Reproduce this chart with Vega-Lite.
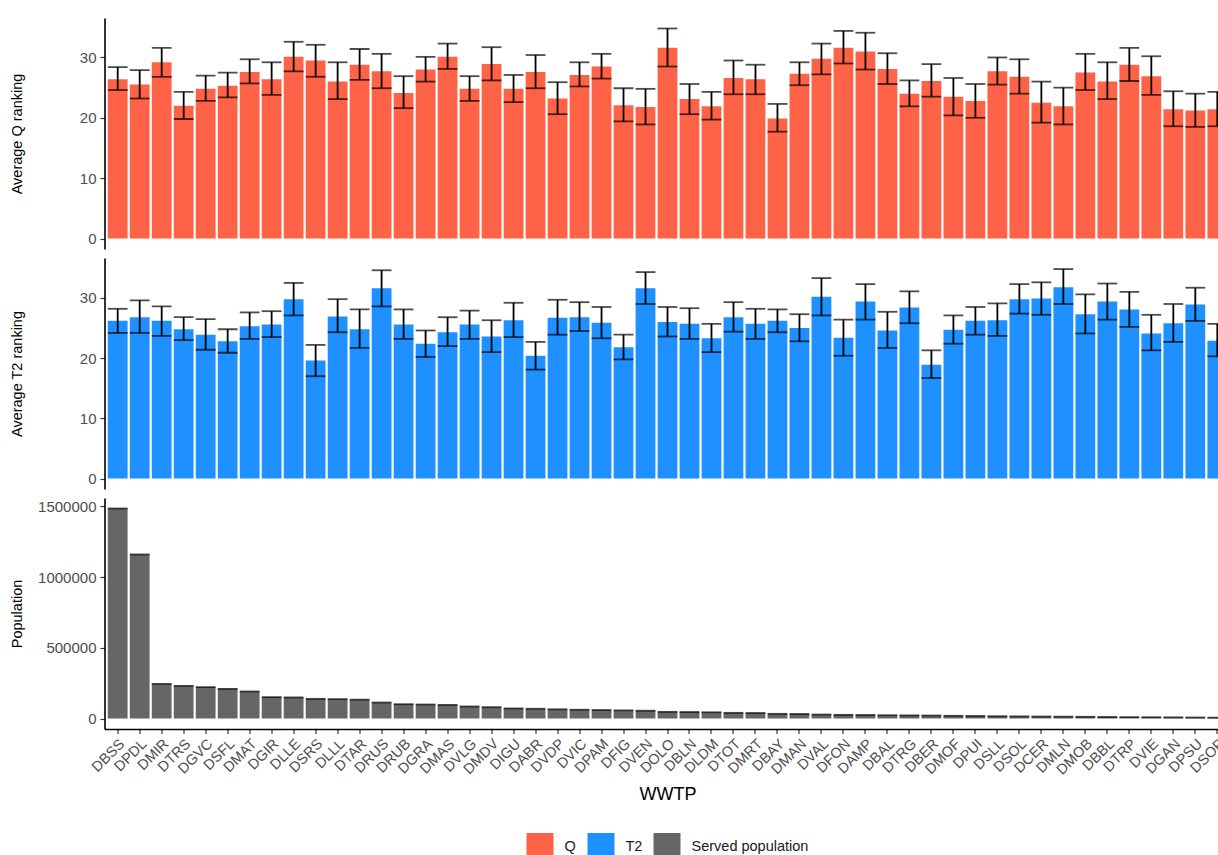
{
  "$schema": "https://vega.github.io/schema/vega-lite/v6.json",
  "background": "white",
  "padding": {"left": 8.5, "top": 18, "right": -13, "bottom": -5},
  "spacing": 9,
  "config": {
    "font": "Liberation Sans",
    "view": {"stroke": null},
    "axis": {
      "domainColor": "black", "domainWidth": 1.6,
      "tickColor": "#333333", "tickWidth": 1.2, "tickSize": 4.5,
      "labelColor": "#4D4D4D", "labelFont": "Liberation Sans", "labelFontSize": 14.5, "labelPadding": 2,
      "titleFont": "Liberation Sans", "titleFontWeight": "normal", "titleColor": "black",
      "grid": false
    },
    "axisY": {"titleFontSize": 14.5, "titleX": -80, "titleBaseline": "bottom", "labelPadding": 4, "labelFontSize": 15},
    "axisX": {"titleFontSize": 18, "labelAngle": -45, "labelAlign": "right", "labelBaseline": "top", "labelPadding": 3, "titleY": 70, "titleBaseline": "alphabetic"},
    "legend": {
      "labelFont": "Liberation Sans", "labelFontSize": 14.5, "labelColor": "#1A1A1A",
      "symbolType": "square", "symbolSize": 729, "symbolStrokeWidth": 0, "symbolOpacity": 1,
      "labelOffset": 11, "columnPadding": 11, "padding": 0
    }
  },
  "data": {
    "values": [
      {"wwtp": "DBSS", "q": 26.4, "q_lo": 24.6, "q_hi": 28.4, "t2": 26.2, "t2_lo": 24.2, "t2_hi": 28.2, "pop": 1485000},
      {"wwtp": "DPDL", "q": 25.5, "q_lo": 23.2, "q_hi": 27.9, "t2": 26.8, "t2_lo": 24.2, "t2_hi": 29.6, "pop": 1160000},
      {"wwtp": "DMIR", "q": 29.2, "q_lo": 26.8, "q_hi": 31.6, "t2": 26.2, "t2_lo": 23.7, "t2_hi": 28.6, "pop": 245000},
      {"wwtp": "DTRS", "q": 22.0, "q_lo": 19.8, "q_hi": 24.3, "t2": 24.8, "t2_lo": 23.0, "t2_hi": 26.8, "pop": 231000},
      {"wwtp": "DGVC", "q": 24.8, "q_lo": 22.8, "q_hi": 27.0, "t2": 23.9, "t2_lo": 21.4, "t2_hi": 26.5, "pop": 222000},
      {"wwtp": "DSFL", "q": 25.3, "q_lo": 23.4, "q_hi": 27.5, "t2": 22.8, "t2_lo": 20.9, "t2_hi": 24.8, "pop": 210000},
      {"wwtp": "DMAT", "q": 27.6, "q_lo": 25.7, "q_hi": 29.7, "t2": 25.3, "t2_lo": 23.2, "t2_hi": 27.6, "pop": 191000},
      {"wwtp": "DGIR", "q": 26.4, "q_lo": 23.8, "q_hi": 29.2, "t2": 25.6, "t2_lo": 23.5, "t2_hi": 27.8, "pop": 151000},
      {"wwtp": "DLLE", "q": 30.1, "q_lo": 27.7, "q_hi": 32.6, "t2": 29.8, "t2_lo": 27.1, "t2_hi": 32.5, "pop": 149000},
      {"wwtp": "DSRS", "q": 29.5, "q_lo": 26.8, "q_hi": 32.1, "t2": 19.6, "t2_lo": 17.0, "t2_hi": 22.2, "pop": 139000},
      {"wwtp": "DLLL", "q": 26.0, "q_lo": 23.1, "q_hi": 29.2, "t2": 26.9, "t2_lo": 24.3, "t2_hi": 29.8, "pop": 137000},
      {"wwtp": "DTAR", "q": 28.8, "q_lo": 26.3, "q_hi": 31.4, "t2": 24.8, "t2_lo": 21.7, "t2_hi": 28.1, "pop": 134000},
      {"wwtp": "DRUS", "q": 27.7, "q_lo": 24.9, "q_hi": 30.6, "t2": 31.6, "t2_lo": 28.6, "t2_hi": 34.6, "pop": 113000},
      {"wwtp": "DRUB", "q": 24.1, "q_lo": 21.6, "q_hi": 26.9, "t2": 25.6, "t2_lo": 23.2, "t2_hi": 28.1, "pop": 101000},
      {"wwtp": "DGRA", "q": 28.0, "q_lo": 26.0, "q_hi": 30.1, "t2": 22.4, "t2_lo": 20.2, "t2_hi": 24.6, "pop": 99000},
      {"wwtp": "DMAS", "q": 30.1, "q_lo": 28.1, "q_hi": 32.3, "t2": 24.3, "t2_lo": 22.0, "t2_hi": 26.8, "pop": 96000},
      {"wwtp": "DVLG", "q": 24.8, "q_lo": 22.8, "q_hi": 26.9, "t2": 25.6, "t2_lo": 23.2, "t2_hi": 27.9, "pop": 85000},
      {"wwtp": "DMDV", "q": 28.9, "q_lo": 26.2, "q_hi": 31.7, "t2": 23.6, "t2_lo": 21.0, "t2_hi": 26.3, "pop": 80000},
      {"wwtp": "DIGU", "q": 24.8, "q_lo": 22.6, "q_hi": 27.1, "t2": 26.3, "t2_lo": 23.5, "t2_hi": 29.2, "pop": 71000},
      {"wwtp": "DABR", "q": 27.6, "q_lo": 24.9, "q_hi": 30.4, "t2": 20.4, "t2_lo": 18.1, "t2_hi": 22.7, "pop": 69000},
      {"wwtp": "DVDP", "q": 23.2, "q_lo": 20.6, "q_hi": 25.9, "t2": 26.7, "t2_lo": 23.9, "t2_hi": 29.7, "pop": 65000},
      {"wwtp": "DVIC", "q": 27.1, "q_lo": 25.2, "q_hi": 29.2, "t2": 26.8, "t2_lo": 24.5, "t2_hi": 29.3, "pop": 62000},
      {"wwtp": "DPAM", "q": 28.5, "q_lo": 26.5, "q_hi": 30.6, "t2": 25.9, "t2_lo": 23.3, "t2_hi": 28.5, "pop": 60000},
      {"wwtp": "DFIG", "q": 22.1, "q_lo": 19.4, "q_hi": 24.9, "t2": 21.8, "t2_lo": 19.8, "t2_hi": 23.9, "pop": 57000},
      {"wwtp": "DVEN", "q": 21.8, "q_lo": 18.9, "q_hi": 24.8, "t2": 31.6, "t2_lo": 29.0, "t2_hi": 34.3, "pop": 55000},
      {"wwtp": "DOLO", "q": 31.6, "q_lo": 28.5, "q_hi": 34.8, "t2": 26.0, "t2_lo": 23.6, "t2_hi": 28.5, "pop": 47000},
      {"wwtp": "DBLN", "q": 23.1, "q_lo": 20.6, "q_hi": 25.6, "t2": 25.7, "t2_lo": 23.2, "t2_hi": 28.3, "pop": 46000},
      {"wwtp": "DLDM", "q": 21.9, "q_lo": 19.7, "q_hi": 24.3, "t2": 23.3, "t2_lo": 21.0, "t2_hi": 25.7, "pop": 44000},
      {"wwtp": "DTOT", "q": 26.6, "q_lo": 23.9, "q_hi": 29.5, "t2": 26.8, "t2_lo": 24.4, "t2_hi": 29.3, "pop": 40000},
      {"wwtp": "DMRT", "q": 26.4, "q_lo": 23.9, "q_hi": 28.8, "t2": 25.7, "t2_lo": 23.2, "t2_hi": 28.2, "pop": 39000},
      {"wwtp": "DBAY", "q": 19.9, "q_lo": 17.7, "q_hi": 22.3, "t2": 26.2, "t2_lo": 24.3, "t2_hi": 28.1, "pop": 33000},
      {"wwtp": "DMAN", "q": 27.3, "q_lo": 25.4, "q_hi": 29.2, "t2": 25.0, "t2_lo": 22.8, "t2_hi": 27.3, "pop": 32000},
      {"wwtp": "DVAL", "q": 29.8, "q_lo": 27.2, "q_hi": 32.3, "t2": 30.2, "t2_lo": 27.1, "t2_hi": 33.3, "pop": 28000},
      {"wwtp": "DFON", "q": 31.6, "q_lo": 29.0, "q_hi": 34.4, "t2": 23.4, "t2_lo": 20.4, "t2_hi": 26.4, "pop": 26000},
      {"wwtp": "DAMP", "q": 31.0, "q_lo": 28.0, "q_hi": 34.1, "t2": 29.4, "t2_lo": 26.4, "t2_hi": 32.3, "pop": 25000},
      {"wwtp": "DBAL", "q": 28.1, "q_lo": 25.6, "q_hi": 30.7, "t2": 24.6, "t2_lo": 21.7, "t2_hi": 27.7, "pop": 23000},
      {"wwtp": "DTRG", "q": 24.0, "q_lo": 21.9, "q_hi": 26.2, "t2": 28.4, "t2_lo": 25.8, "t2_hi": 31.1, "pop": 22000},
      {"wwtp": "DBER", "q": 26.1, "q_lo": 23.5, "q_hi": 28.9, "t2": 18.9, "t2_lo": 16.7, "t2_hi": 21.3, "pop": 21000},
      {"wwtp": "DMOF", "q": 23.5, "q_lo": 20.4, "q_hi": 26.6, "t2": 24.7, "t2_lo": 22.4, "t2_hi": 27.1, "pop": 19000},
      {"wwtp": "DPUI", "q": 22.8, "q_lo": 20.0, "q_hi": 25.6, "t2": 26.2, "t2_lo": 23.9, "t2_hi": 28.5, "pop": 18000},
      {"wwtp": "DSLL", "q": 27.7, "q_lo": 25.5, "q_hi": 30.0, "t2": 26.3, "t2_lo": 23.7, "t2_hi": 29.1, "pop": 16000},
      {"wwtp": "DSOL", "q": 26.8, "q_lo": 24.0, "q_hi": 29.7, "t2": 29.8, "t2_lo": 27.4, "t2_hi": 32.3, "pop": 15000},
      {"wwtp": "DCER", "q": 22.5, "q_lo": 19.2, "q_hi": 26.0, "t2": 29.9, "t2_lo": 27.2, "t2_hi": 32.6, "pop": 14000},
      {"wwtp": "DMLN", "q": 21.9, "q_lo": 18.9, "q_hi": 25.0, "t2": 31.8, "t2_lo": 29.0, "t2_hi": 34.8, "pop": 13000},
      {"wwtp": "DMOB", "q": 27.5, "q_lo": 24.6, "q_hi": 30.6, "t2": 27.3, "t2_lo": 24.1, "t2_hi": 30.6, "pop": 12000},
      {"wwtp": "DBBL", "q": 26.0, "q_lo": 23.1, "q_hi": 29.2, "t2": 29.4, "t2_lo": 26.4, "t2_hi": 32.4, "pop": 11000},
      {"wwtp": "DTRP", "q": 28.8, "q_lo": 26.1, "q_hi": 31.6, "t2": 28.1, "t2_lo": 25.2, "t2_hi": 31.0, "pop": 10000},
      {"wwtp": "DVIE", "q": 26.9, "q_lo": 23.8, "q_hi": 30.2, "t2": 24.1, "t2_lo": 21.3, "t2_hi": 27.2, "pop": 9000},
      {"wwtp": "DGAN", "q": 21.4, "q_lo": 18.6, "q_hi": 24.4, "t2": 25.8, "t2_lo": 22.7, "t2_hi": 29.0, "pop": 8000},
      {"wwtp": "DPSU", "q": 21.2, "q_lo": 18.5, "q_hi": 24.0, "t2": 28.9, "t2_lo": 26.2, "t2_hi": 31.7, "pop": 7000},
      {"wwtp": "DSOP", "q": 21.4, "q_lo": 18.6, "q_hi": 24.3, "t2": 22.9, "t2_lo": 20.3, "t2_hi": 25.7, "pop": 6000}
    ]
  },
  "resolve": {"scale": {"color": "shared"}, "legend": {"color": "shared"}},
  "vconcat": [
    {
      "width": 1126, "height": 231,
      "encoding": {
        "x": {"field": "wwtp", "type": "nominal", "sort": null, "scale": {"paddingInner": 0.1, "paddingOuter": 0.15}, "axis": null}
      },
      "layer": [
        {
          "mark": {"type": "bar"},
          "encoding": {
            "y": {"field": "q", "type": "quantitative", "title": "Average Q ranking", "scale": {"domain": [-1.74, 36.54], "nice": false, "zero": false}, "axis": {"values": [0, 10, 20, 30]}},
            "y2": {"datum": 0},
            "color": {"datum": "Q", "type": "nominal", "scale": {"domain": ["Q", "T2", "Served population"], "range": ["#FF6347", "#1E90FF", "#666666"]}, "legend": {"orient": "none", "direction": "horizontal", "title": null, "legendX": 422, "legendY": 815}}
          }
        },
        {
          "mark": {"type": "rule", "color": "black", "strokeWidth": 1.8},
          "encoding": {"y": {"field": "q_lo", "type": "quantitative", "title": "Average Q ranking"}, "y2": {"field": "q_hi"}}
        },
        {
          "mark": {"type": "tick", "color": "black", "size": 19.8, "thickness": 1.8},
          "encoding": {"y": {"field": "q_hi", "type": "quantitative", "title": "Average Q ranking"}}
        },
        {
          "mark": {"type": "tick", "color": "black", "size": 19.8, "thickness": 1.8},
          "encoding": {"y": {"field": "q_lo", "type": "quantitative", "title": "Average Q ranking"}}
        }
      ]
    },
    {
      "width": 1126, "height": 231,
      "encoding": {
        "x": {"field": "wwtp", "type": "nominal", "sort": null, "scale": {"paddingInner": 0.1, "paddingOuter": 0.15}, "axis": null}
      },
      "layer": [
        {
          "mark": {"type": "bar"},
          "encoding": {
            "y": {"field": "t2", "type": "quantitative", "title": "Average T2 ranking", "scale": {"domain": [-1.74, 36.64], "nice": false, "zero": false}, "axis": {"values": [0, 10, 20, 30]}},
            "y2": {"datum": 0},
            "color": {"datum": "T2", "type": "nominal", "scale": {"domain": ["Q", "T2", "Served population"], "range": ["#FF6347", "#1E90FF", "#666666"]}, "legend": {"orient": "none", "direction": "horizontal", "title": null, "legendX": 422, "legendY": 815}}
          }
        },
        {
          "mark": {"type": "rule", "color": "black", "strokeWidth": 1.8},
          "encoding": {"y": {"field": "t2_lo", "type": "quantitative", "title": "Average T2 ranking"}, "y2": {"field": "t2_hi"}}
        },
        {
          "mark": {"type": "tick", "color": "black", "size": 19.8, "thickness": 1.8},
          "encoding": {"y": {"field": "t2_hi", "type": "quantitative", "title": "Average T2 ranking"}}
        },
        {
          "mark": {"type": "tick", "color": "black", "size": 19.8, "thickness": 1.8},
          "encoding": {"y": {"field": "t2_lo", "type": "quantitative", "title": "Average T2 ranking"}}
        }
      ]
    },
    {
      "width": 1126, "height": 231,
      "encoding": {
        "x": {"field": "wwtp", "type": "nominal", "sort": null, "title": "WWTP", "scale": {"paddingInner": 0.1, "paddingOuter": 0.15}}
      },
      "layer": [
        {
          "mark": {"type": "bar"},
          "encoding": {
            "y": {"field": "pop", "type": "quantitative", "title": "Population", "scale": {"domain": [-74250, 1559250], "nice": false, "zero": false}, "axis": {"values": [0, 500000, 1000000, 1500000], "format": "d"}},
            "y2": {"datum": 0},
            "color": {"datum": "Served population", "type": "nominal", "scale": {"domain": ["Q", "T2", "Served population"], "range": ["#FF6347", "#1E90FF", "#666666"]}, "legend": {"orient": "none", "direction": "horizontal", "title": null, "legendX": 422, "legendY": 815}}
          }
        },
        {
          "mark": {"type": "tick", "color": "black", "size": 19.8, "thickness": 1.8},
          "encoding": {"y": {"field": "pop", "type": "quantitative", "title": "Population"}}
        }
      ]
    }
  ]
}
